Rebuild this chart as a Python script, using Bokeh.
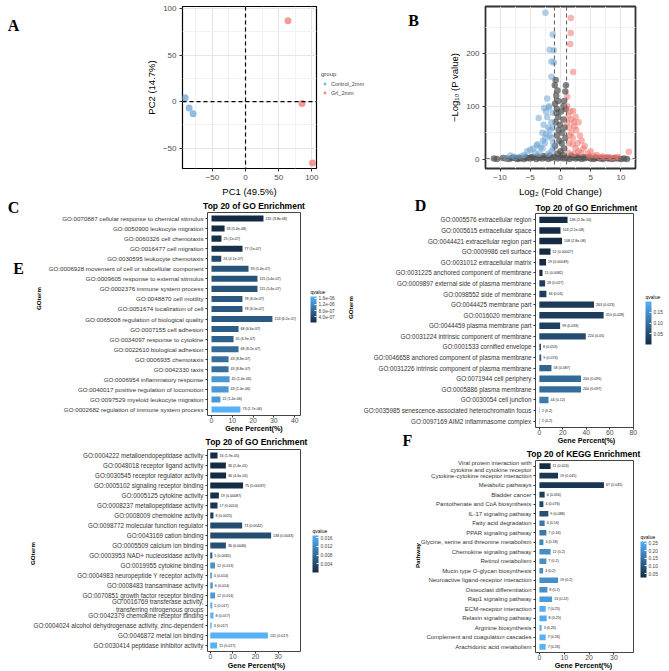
import math
from bokeh.plotting import figure
from bokeh.models import (Range1d, FactorRange, Label, ColorBar, LinearColorMapper,
                          ColumnDataSource, Span, Legend, LegendItem, FixedTicker,
                          PrintfTickFormatter, CustomJSTickFormatter, AllLabels, GridBox)
from bokeh.layouts import column, row
from bokeh.embed import file_html
from bokeh.resources import INLINE
from bokeh.core.properties import value

FONT = "Liberation Sans"
SERIF = "Liberation Serif"
NB = "\u00a0"

# ---------------- data ----------------
pca_groups = ["Control_2mm", "Grl_2mm"]
pca_ctrl_pc1 = [-91, -85, -79]
pca_ctrl_pc2 = [4, -7, -13]
pca_grl_pc1 = [64, 85, 101]
pca_grl_pc2 = [87, -2, -66]

vol_down_x = [-2.5, -1.3, -1.8, -1.1, -1.5, -1.1, -1.5, -2.2, -2.7, -1.9, -2.4, -1.3, -2.2, -3.6, -1.5,
              -2.0, -3.0, -1.7, -2.5, -3.9, -3.8, -5.5, -5.0, -4.5, -3.0, -2.6, -1.5, -1.2, -8.3, -6.0,
              -7.5, -6.5, -2.0, -1.5, -3.5, -1.2, -2.8, -1.8, -4.2, -9.0, -2.9, -3.3, -1.9, -2.4, -1.2]
vol_down_y = [277, 236, 207, 206, 185, 183, 156, 115, 97, 98, 90, 88, 80, 78, 70,
              60, 50, 55, 40, 26, 28, 15, 18, 20, 20, 30, 40, 30, 7, 8,
              4, 5, 10, 15, 10, 20, 65, 45, 12, 2, 35, 22, 100, 48, 60]
vol_up_x = [1.7, 1.7, 1.6, 2.1, 1.1, 1.1, 2.1, 1.6, 2.5, 1.8, 3.0, 2.2, 1.5, 2.6, 3.2, 1.8, 2.0, 3.5,
            4.0, 1.4, 2.5, 5.0, 4.5, 6.0, 7.0, 8.0, 9.0, 11.3, 3.0, 1.3, 2.2, 5.5, 6.5, 8.5, 1.5,
            2.8, 1.1, 3.8, 2.3, 1.3, 4.8, 7.5, 9.5, 3.4, 2.0]
vol_up_y = [267, 239, 218, 165, 118, 100, 91, 90, 80, 75, 70, 70, 60, 55, 45, 50, 40, 35,
            25, 30, 20, 15, 10, 8, 5, 4, 3, 14, 15, 12, 10, 6, 3, 2, 45,
            30, 70, 20, 62, 82, 5, 3, 4, 12, 28]
vol_ns_x = [-0.8, -0.5, -0.7, 0.8, 0.6, -0.9, -0.6, 0.9, -0.4, 0.5, -0.8, 0.7, -0.3, 0.3, -0.6,
            0.8, -0.2, 0.2, -0.9, 0.6, 0.0, -0.5, 0.4, -0.95, 0.9, -0.7, 0.5, -0.1, 0.1, -0.4,
            -11.0, -10.5, -9.5, -9.0, -8.5, -8.0, -7.3, -7.0, -6.5, -6.0, -5.5, -5.0, -4.5, -4.0,
            -3.5, -3.0, -2.5, -2.0, -1.5, -1.0, -0.5, 0.0, 0.5, 1.0, 1.5, 2.0, 2.5, 3.0, 3.5,
            4.0, 4.5, 5.0, 5.5, 6.0, 6.5, 7.0, 7.5, 8.0, 8.5, 9.0, 9.5, 10.0, 10.5, 11.0,
            -7.8, -6.8, -5.8, -4.8, -3.8, -2.8, -1.8, 1.8, 2.8, 3.8, 4.8, 5.8, 6.8, 7.8, 8.8]
vol_ns_y = [150, 130, 120, 128, 110, 105, 95, 95, 80, 75, 70, 60, 55, 50, 45,
            40, 35, 30, 25, 20, 15, 10, 8, 140, 140, 88, 100, 65, 90, 110,
            1, 0.5, 2, 1, 0.5, 2, 1, 0.5, 1.5, 0.5, 2, 1, 3, 0.5,
            2, 1, 3, 0.5, 2, 4, 1, 3, 1, 2, 0.5, 3, 1, 2, 0.5,
            1.5, 3, 1, 0.5, 2, 1, 0.5, 2, 1, 0.5, 1.5, 1, 0.5, 1, 0.5,
            3, 2.5, 3.5, 4, 5, 6, 7, 7, 5, 4, 3.5, 3, 2.5, 2, 1.5]

C_terms = ["GO:0070887 cellular response to chemical stimulus",
           "GO:0050900 leukocyte migration",
           "GO:0060326 cell chemotaxis",
           "GO:0016477 cell migration",
           "GO:0030595 leukocyte chemotaxis",
           "GO:0006928 movement of cell or subcellular component",
           "GO:0009605 response to external stimulus",
           "GO:0002376 immune system process",
           "GO:0048870 cell motility",
           "GO:0051674 localization of cell",
           "GO:0065008 regulation of biological quality",
           "GO:0007155 cell adhesion",
           "GO:0034097 response to cytokine",
           "GO:0022610 biological adhesion",
           "GO:0006935 chemotaxis",
           "GO:0042330 taxis",
           "GO:0006954 inflammatory response",
           "GO:0040017 positive regulation of locomotion",
           "GO:0097529 myeloid leukocyte migration",
           "GO:0002682 regulation of immune system process"]
C_pct = [25.0, 6.3, 4.8, 14.9, 4.7, 17.8, 22.1, 22.1, 14.9, 14.9,
         29.3, 13.0, 10.6, 13.0, 8.2, 8.2, 8.7, 8.2, 4.3, 13.9]
C_lab = ["131 (3.8e-08)", "33 (5.4e-08)", "25 (1e-07)", "77 (1e-07)", "24 (4.1e-07)",
         "93 (5.4e-07)", "115 (5.4e-07)", "115 (5.4e-07)", "78 (6.0e-07)", "78 (6.0e-07)",
         "153 (6.2e-07)", "68 (6.6e-07)", "55 (6.9e-07)", "68 (8.2e-07)", "43 (8.8e-07)",
         "43 (8.8e-07)", "45 (1.4e-06)", "43 (1.4e-06)", "22 (1.4e-06)", "73 (1.7e-06)"]
C_q = [3.8e-08, 5.4e-08, 1.0e-07, 1.0e-07, 4.1e-07, 5.4e-07, 5.4e-07, 5.4e-07, 6.0e-07, 6.0e-07,
       6.2e-07, 6.6e-07, 6.9e-07, 8.2e-07, 8.8e-07, 8.8e-07, 1.4e-06, 1.4e-06, 1.4e-06, 1.7e-06]
C_cb_ticks = [4.0e-07, 8.0e-07, 1.2e-06, 1.6e-06]

D_terms = ["GO:0005576 extracellular region",
           "GO:0005615 extracellular space",
           "GO:0044421 extracellular region part",
           "GO:0009986 cell surface",
           "GO:0031012 extracellular matrix",
           "GO:0031225 anchored component of membrane",
           "GO:0009897 external side of plasma membrane",
           "GO:0098552 side of membrane",
           "GO:0044425 membrane part",
           "GO:0016020 membrane",
           "GO:0044459 plasma membrane part",
           "GO:0031224 intrinsic component of membrane",
           "GO:0001533 cornified envelope",
           "GO:0046658 anchored component of plasma membrane",
           "GO:0031226 intrinsic component of plasma membrane",
           "GO:0071944 cell periphery",
           "GO:0005886 plasma membrane",
           "GO:0030054 cell junction",
           "GO:0035985 senescence-associated heterochromatin focus",
           "GO:0097169 AIM2 inflammasome complex"]
D_pct = [24.0, 18.0, 19.3, 9.5, 5.7, 2.7, 4.9, 6.0, 46.5, 54.7,
         17.7, 39.5, 1.4, 1.6, 10.3, 35.4, 35.4, 7.8, 0.4, 0.4]
D_lab = ["136 (2.3e-10)", "103 (2.1e-08)", "108 (2.8e-08)", "52 (0.00027)", "29 (0.00049)",
         "15 (0.0082)", "28 (0.027)", "34 (0.03)", "263 (0.023)", "310 (0.028)",
         "99 (0.033)", "224 (0.05)", "8 (0.053)", "9 (0.074)", "58 (0.087)",
         "200 (0.095)", "200 (0.097)", "44 (0.12)", "2 (0.2)", "2 (0.2)"]
D_q = [2.3e-10, 2.1e-08, 2.8e-08, 0.00027, 0.00049, 0.0082, 0.027, 0.03, 0.023, 0.028,
       0.033, 0.05, 0.053, 0.074, 0.087, 0.095, 0.097, 0.12, 0.2, 0.2]
D_cb_ticks = [0.05, 0.10, 0.15]

E_terms = ["GO:0004222 metalloendopeptidase activity",
           "GO:0048018 receptor ligand activity",
           "GO:0030545 receptor regulator activity",
           "GO:0005102 signaling receptor binding",
           "GO:0005125 cytokine activity",
           "GO:0008237 metallopeptidase activity",
           "GO:0008009 chemokine activity",
           "GO:0098772 molecular function regulator",
           "GO:0043169 cation binding",
           "GO:0005509 calcium ion binding",
           "GO:0003953 NAD+ nucleosidase activity",
           "GO:0019955 cytokine binding",
           "GO:0004983 neuropeptide Y receptor activity",
           "GO:0008483 transaminase activity",
           "GO:0070851 growth factor receptor binding",
           "GO:0016769 transferase activity,\n" + NB * 4 + "transferring nitrogenous groups",
           "GO:0042379 chemokine receptor binding",
           "GO:0004024 alcohol dehydrogenase activity, zinc-dependent",
           "GO:0046872 metal ion binding",
           "GO:0030414 peptidase inhibitor activity"]
E_pct = [3.2, 6.9, 7.0, 14.5, 3.8, 3.2, 1.4, 14.1, 26.9, 6.9,
         0.9, 2.1, 0.7, 1.1, 2.1, 0.9, 1.4, 0.6, 25.5, 3.0]
E_lab = ["16 (1.9e-05)", "36 (2.4e-05)", "36 (4.6e-05)", "75 (0.00037)", "19 (0.00087)",
         "17 (0.0014)", "8 (0.0025)", "73 (0.0042)", "138 (0.0043)", "36 (0.0046)",
         "5 (0.0065)", "12 (0.013)", "4 (0.014)", "6 (0.014)", "12 (0.014)",
         "5 (0.017)", "8 (0.017)", "3 (0.017)", "131 (0.017)", "15 (0.017)"]
E_q = [1.9e-05, 2.4e-05, 4.6e-05, 0.00037, 0.00087, 0.0014, 0.0025, 0.0042, 0.0043, 0.0046,
       0.0065, 0.013, 0.014, 0.014, 0.014, 0.017, 0.017, 0.017, 0.017, 0.017]
E_cb_ticks = [0.004, 0.008, 0.012, 0.016]

F_terms = [NB * 4 + "Viral protein interaction with\ncytokine and cytokine receptor",
           "Cytokine-cytokine receptor interaction",
           "Metabolic pathways",
           "Bladder cancer",
           "Pantothenate and CoA biosynthesis",
           "IL-17 signaling pathway",
           "Fatty acid degradation",
           "PPAR signaling pathway",
           "Glycine, serine and threonine metabolism",
           "Chemokine signaling pathway",
           "Retinol metabolism",
           "Mucin type O-glycan biosynthesis",
           "Neuroactive ligand-receptor interaction",
           "Osteoclast differentiation",
           "Rap1 signaling pathway",
           "ECM-receptor interaction",
           "Relaxin signaling pathway",
           "Arginine biosynthesis",
           "Complement and coagulation cascades",
           "Arachidonic acid metabolism"]
F_pct = [4.5, 7.5, 26.0, 2.1, 1.6, 3.6, 2.1, 2.8, 1.6, 4.5,
         2.8, 1.5, 7.5, 3.2, 5.1, 2.5, 2.9, 0.9, 2.5, 2.5]
F_lab = ["11 (0.024)", "19 (0.045)", "67 (0.045)", "6 (0.056)", "4 (0.076)",
         "9 (0.088)", "6 (0.16)", "7 (0.16)", "4 (0.18)", "12 (0.2)",
         "7 (0.2)", "4 (0.2)", "19 (0.2)", "8 (0.2)", "13 (0.22)",
         "7 (0.25)", "8 (0.25)", "3 (0.26)", "7 (0.26)", "7 (0.26)"]
F_q = [0.024, 0.045, 0.045, 0.056, 0.076, 0.088, 0.16, 0.16, 0.18, 0.2,
       0.2, 0.2, 0.2, 0.2, 0.22, 0.25, 0.25, 0.26, 0.26, 0.26]
F_cb_ticks = [0.05, 0.10, 0.15, 0.20, 0.25]

# ---------------- helpers ----------------
PAGE_W, PAGE_H = 669, 671
c_lo = (0x13, 0x2B, 0x43)
c_hi = (0x56, 0xB1, 0xF7)
PAL = ["#%02x%02x%02x" % tuple(int(round(a + (b - a) * i / 255.0)) for a, b in zip(c_lo, c_hi))
       for i in range(256)]
SCI_FMT = CustomJSTickFormatter(
    code="return tick.toExponential(1).replace(/e([+-])(\\d)$/, 'e$10$2');")

# overlay figure: frame == whole page, y grows downwards, holds free texts
pO = figure(width=PAGE_W, height=PAGE_H, x_range=Range1d(0, PAGE_W), y_range=Range1d(PAGE_H, 0),
            x_axis_type=None, y_axis_type=None, output_backend="svg", toolbar_location=None,
            min_border=0)
pO.background_fill_alpha = 0
pO.border_fill_alpha = 0
pO.outline_line_color = None
pO.xgrid.visible = False
pO.ygrid.visible = False


def olab(X, Y, text, size, bold=False, angle=0.0, font=FONT, align="center", color="black"):
    pO.add_layout(Label(x=X, y=Y, text=text, text_font=font, text_font_size="%spx" % size,
                        text_font_style="bold" if bold else "normal", text_align=align,
                        text_baseline="middle", angle=angle, text_color=color))


def make_fig(ox, oy, W, H, fl, ft, fr, fb, xr, yr):
    p = figure(width=W, height=H, x_range=xr, y_range=yr, output_backend="svg",
               toolbar_location=None, min_border_left=fl - ox, min_border_right=ox + W - fr,
               min_border_top=ft - oy, min_border_bottom=oy + H - fb)
    p.background_fill_color = "white"
    p.border_fill_color = "white"
    return p


def style_axis(ax, size, color="#4D4D4D"):
    ax.axis_line_color = None
    ax.major_tick_line_color = "#333333"
    ax.major_tick_out = 3
    ax.major_tick_in = 0
    ax.minor_tick_line_color = None
    ax.major_label_text_font = FONT
    ax.major_label_text_font_size = "%spx" % size
    ax.major_label_text_color = color
    ax.major_label_standoff = 2


def bar_panel(ox, oy, W, H, fl, ft, fr, fb, x0, x1, xticks, terms, pct, labs, q, cb_ticks,
              cb_fmt, cb_x, cb_top, cb_bot, font_px, title, title_y, xlab_y, ylab, ylab_xy):
    src = ColumnDataSource(dict(term=terms, pct=pct, lab=labs, q=q))
    yr = FactorRange(factors=list(reversed(terms)), range_padding=0.1,
                     range_padding_units="absolute")
    p = make_fig(ox, oy, W, H, fl, ft, fr, fb, Range1d(x0, x1), yr)
    mapper = LinearColorMapper(palette=PAL, low=min(q), high=max(q))
    p.hbar(y="term", left=0, right="pct", height=0.6, source=src,
           fill_color={"field": "q", "transform": mapper}, line_color=None)
    p.text(x="pct", y="term", text="lab", source=src, x_offset=2,
           text_font=value(FONT), text_font_size=value("3.6px"), text_baseline="middle",
           text_align="left", text_color="#111111")
    p.xgrid.visible = False
    p.ygrid.visible = False
    p.outline_line_color = "#444444"
    p.outline_line_width = 1
    style_axis(p.xaxis, 6.8)
    p.xaxis.major_tick_out = 2
    p.xaxis.major_label_standoff = 0
    p.xaxis.ticker = FixedTicker(ticks=xticks)
    style_axis(p.yaxis, font_px, "#333333")
    p.yaxis.major_tick_out = 2
    cx = (fl + fr) / 2.0
    olab(cx, title_y, title, 8.5, bold=True)
    olab(cx, xlab_y, "Gene Percent(%)", 7.2, bold=True)
    olab(ylab_xy[0], ylab_xy[1], ylab, 6.2, bold=True, angle=math.pi / 2)
    olab(cb_x, cb_top - 5, "qvalue", 5, align="left")
    fmt = SCI_FMT if cb_fmt == "sci" else PrintfTickFormatter(format=cb_fmt)
    cb = ColorBar(color_mapper=mapper, ticker=FixedTicker(ticks=cb_ticks), formatter=fmt,
                  major_label_policy=AllLabels(),
                  location=(cb_x, PAGE_H - cb_bot), width=6, height=cb_bot - cb_top,
                  major_label_text_font=FONT, major_label_text_font_size="4.8px",
                  label_standoff=2, padding=0, margin=0, border_line_color=None,
                  background_fill_alpha=0, bar_line_color=None,
                  major_tick_line_color="white", major_tick_in=2, major_tick_out=0,
                  minor_tick_line_color=None)
    pO.add_layout(cb, "center")
    return p


# ---------------- A: PCA ----------------
COL_CTRL, COL_GRL = "#7FAFD8", "#F08A84"
pA = make_fig(0, 0, 380, 200, 182, 6, 316, 168, Range1d(-95, 107), Range1d(-72, 102.2))
pA.scatter(pca_ctrl_pc1, pca_ctrl_pc2, size=7, fill_color=COL_CTRL, line_color=None,
           fill_alpha=0.85)
pA.scatter(pca_grl_pc1, pca_grl_pc2, size=7, fill_color=COL_GRL, line_color=None,
           fill_alpha=0.85)
pA.add_layout(Span(location=0, dimension="height", line_dash="4 3", line_color="black",
                   line_width=1.2))
pA.add_layout(Span(location=0, dimension="width", line_dash="4 3", line_color="black",
                   line_width=1.2))
pA.xaxis.ticker = FixedTicker(ticks=[-50, 0, 50, 100], minor_ticks=[-75, -25, 25, 75])
pA.yaxis.ticker = FixedTicker(ticks=[-50, 0, 50, 100], minor_ticks=[-75, -25, 25, 75])
for g in (pA.xgrid, pA.ygrid):
    g.grid_line_color = "#E5E5E5"
    g.minor_grid_line_color = "#F2F2F2"
style_axis(pA.xaxis, 8)
style_axis(pA.yaxis, 8)
pA.xaxis.axis_label = "PC1 (49.5%)"
pA.yaxis.axis_label = "PC2 (14.7%)"
for ax in (pA.xaxis, pA.yaxis):
    ax.axis_label_text_font = FONT
    ax.axis_label_text_font_size = "9.5px"
    ax.axis_label_text_font_style = "normal"
    ax.axis_label_text_color = "black"
    ax.axis_label_standoff = 3
pA.outline_line_color = "black"
pA.outline_line_width = 1.2

# legend for A, drawn on the overlay; its key renderers sit outside the visible range
lg1 = pO.scatter(x=[-20], y=[-20], size=6, fill_color=COL_CTRL, line_color=None)
lg2 = pO.scatter(x=[-20], y=[-20], size=6, fill_color=COL_GRL, line_color=None)
legA = Legend(items=[LegendItem(label=pca_groups[0], renderers=[lg1]),
                     LegendItem(label=pca_groups[1], renderers=[lg2])],
              title="group", location=(321, PAGE_H - 96), padding=0, margin=0,
              spacing=2, glyph_width=7, glyph_height=7, label_height=7, label_standoff=3,
              title_standoff=3, border_line_color=None, background_fill_alpha=0,
              title_text_font=FONT, title_text_font_size="6px", title_text_font_style="normal",
              label_text_font=FONT, label_text_font_size="5.5px")
pO.add_layout(legA, "center")

# ---------------- B: volcano ----------------
pB = make_fig(380, 0, 289, 200, 485, 5, 635, 170, Range1d(-12.4, 12.4), Range1d(-17.7, 289))
pB.scatter(vol_ns_x, vol_ns_y, size=6.5, fill_color="#505050", line_color=None, fill_alpha=0.7)
pB.scatter(vol_down_x, vol_down_y, size=6.5, fill_color="#6FA6D6", line_color=None, fill_alpha=0.55)
pB.scatter(vol_up_x, vol_up_y, size=6.5, fill_color="#F3776F", line_color=None, fill_alpha=0.55)
for loc in (-1, 1):
    pB.add_layout(Span(location=loc, dimension="height", line_dash="4 3", line_color="#666666",
                       line_width=1.1))
pB.add_layout(Span(location=1.3, dimension="width", line_dash="4 3", line_color="#666666",
                   line_width=1.1))
pB.xaxis.ticker = FixedTicker(ticks=[-10, -5, 0, 5, 10], minor_ticks=[-12.5, -7.5, -2.5, 2.5, 7.5, 12.5])
pB.yaxis.ticker = FixedTicker(ticks=[0, 100, 200], minor_ticks=[50, 150, 250])
for g in (pB.xgrid, pB.ygrid):
    g.grid_line_color = "#E5E5E5"
    g.minor_grid_line_color = "#F2F2F2"
style_axis(pB.xaxis, 8)
style_axis(pB.yaxis, 8)
pB.xaxis.axis_label = "Log\u2082 (Fold Change)"
pB.yaxis.axis_label = "\u2212Log\u2081\u2080 (P value)"
for ax in (pB.xaxis, pB.yaxis):
    ax.axis_label_text_font = FONT
    ax.axis_label_text_font_size = "9.5px"
    ax.axis_label_text_font_style = "normal"
    ax.axis_label_text_color = "black"
    ax.axis_label_standoff = 3
pB.outline_line_color = "#333333"
pB.outline_line_width = 1.8

# ---------------- C / E / D / F ----------------
pC = bar_panel(0, 200, 340, 235, 207, 212, 300, 415, -1.92, 42.8, [0, 10, 20, 30, 40],
               C_terms, C_pct, C_lab, C_q, C_cb_ticks, "sci", 310, 296, 322, 6.2,
               "Top 20 of GO Enrichment", 205, 428, "GOterm", (38, 298))
pE = bar_panel(0, 435, 340, 236, 206, 449, 306, 651, -1.23, 39.9, [0, 10, 20, 30],
               E_terms, E_pct, E_lab, E_q, E_cb_ticks, "%.3f", 312, 535, 572, 6.3,
               "Top 20 of GO Enrichment", 441, 665, "GOterm", (32, 553))
pD = bar_panel(340, 200, 329, 247, 535, 213, 637, 427, -3.27, 80.1, [0, 20, 40, 60, 80],
               D_terms, D_pct, D_lab, D_q, D_cb_ticks, "%.2f", 645, 301, 344, 6.3,
               "Top 20 of GO Enrichment", 207, 440, "GOterm", (350, 307))
pF = bar_panel(340, 447, 329, 224, 533, 460, 633, 652, -1.58, 37.9, [0, 10, 20, 30],
               F_terms, F_pct, F_lab, F_q, F_cb_ticks, "%.2f", 640, 541, 577, 6.0,
               "Top 20 of KEGG Enrichment", 453, 665, "Pathway", (417, 555))

# panel letters
for letter, X, Y in (("A", 13, 25), ("B", 413, 20), ("C", 13, 207), ("D", 420, 205),
                     ("E", 18, 268), ("F", 407, 440)):
    olab(X, Y, letter, 16, bold=True, font=SERIF)

main = column(row(pA, pB), row(column(pC, pE), column(pD, pF)))
page = GridBox(children=[(main, 0, 0), (pO, 0, 0)])
open("out.html", "w").write(file_html(page, INLINE))
